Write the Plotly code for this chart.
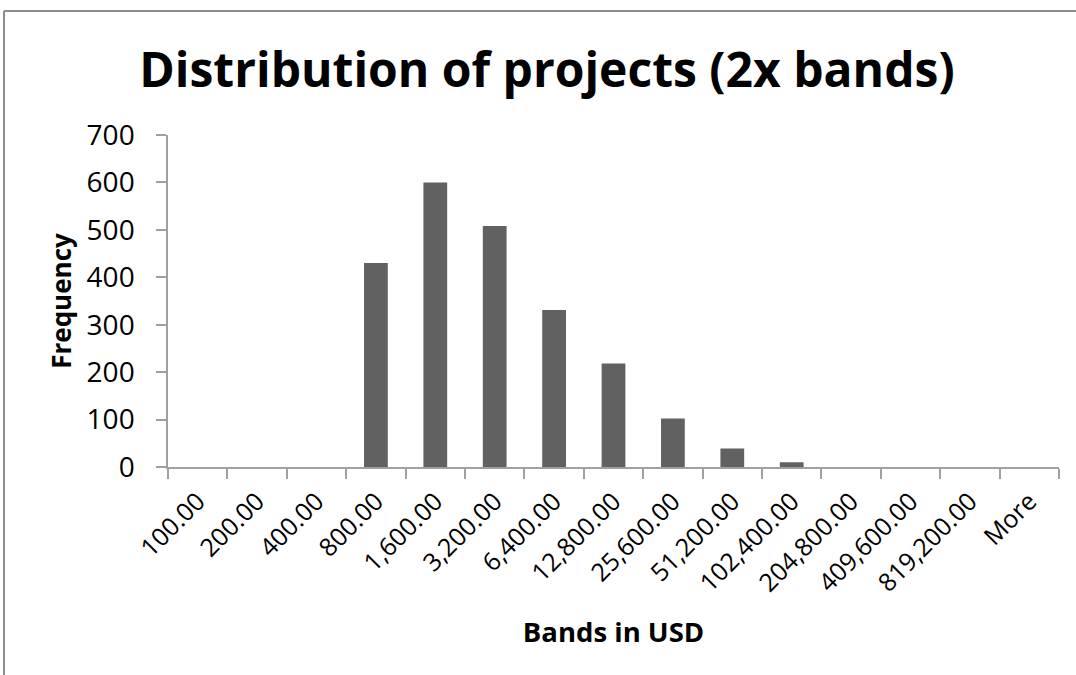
import plotly.graph_objects as go

categories = ["100.00", "200.00", "400.00", "800.00", "1,600.00", "3,200.00", "6,400.00",
              "12,800.00", "25,600.00", "51,200.00", "102,400.00", "204,800.00",
              "409,600.00", "819,200.00", "More"]
frequency = [0, 0, 0, 430, 600, 508, 331, 218, 102, 39, 10, 0, 0, 0, 0]
y_ticks = [0, 100, 200, 300, 400, 500, 600, 700]

W, H = 1076, 675
ML, MR, MT, MB = 168, 17, 135, 208
PW, PH = W - ML - MR, H - MT - MB

fig = go.Figure()
fig.add_trace(go.Bar(
    x=categories, y=frequency,
    width=0.4,
    marker=dict(color="#616161", line=dict(width=0)),
))

font = "Open Sans"
fig.update_layout(
    width=W, height=H,
    margin=dict(l=ML, r=MR, t=MT, b=MB),
    paper_bgcolor="white", plot_bgcolor="white",
    showlegend=False,
    title=dict(text="<b>Distribution of projects (2x bands)</b>",
               font=dict(family=font, size=48, color="black"),
               x=547 / W, xanchor="center", y=1 - 70 / H, yanchor="middle"),
    font=dict(family=font, color="black"),
)
fig.update_xaxes(
    type="category", tickson="boundaries",
    showline=True, linecolor="#a0a0a0", linewidth=1.5,
    ticks="outside", ticklen=10, tickcolor="#a0a0a0", tickwidth=1.5,
    tickangle=-45, tickfont=dict(size=25, family=font, color="black"),
    ticklabelstandoff=8,
    showgrid=False,
    title=dict(text="<b>Bands in USD</b>", font=dict(size=27.5, family=font, color="black"),
               standoff=26),
)
fig.update_yaxes(
    range=[0, 700], tickvals=y_ticks,
    showline=True, linecolor="#a0a0a0", linewidth=1.5,
    ticks="outside", ticklen=10, tickcolor="#a0a0a0", tickwidth=1.5,
    tickfont=dict(size=28, family=font, color="black"),
    ticklabelstandoff=16,
    showgrid=False, zeroline=False,
    title=dict(text="<b>Frequency</b>", font=dict(size=26, family=font, color="black"),
               standoff=8),
)
# outer chart frame: only top and left edges are visible in the reference
frame_left, frame_top = 4, 11  # pixel coords
fx0 = (frame_left - ML) / PW
fy1 = (H - MB - frame_top) / PH
fig.add_shape(type="line", xref="paper", yref="paper",
              x0=fx0, x1=(W - ML) / PW, y0=fy1, y1=fy1,
              line=dict(color="#8c8c8c", width=2))
fig.add_shape(type="line", xref="paper", yref="paper",
              x0=fx0, x1=fx0, y0=-MB / PH, y1=fy1,
              line=dict(color="#8c8c8c", width=2))
fig.write_html("out.html",
               config={"displayModeBar": False},
               post_script="document.body.style.margin='0';document.body.style.overflow='hidden';")
